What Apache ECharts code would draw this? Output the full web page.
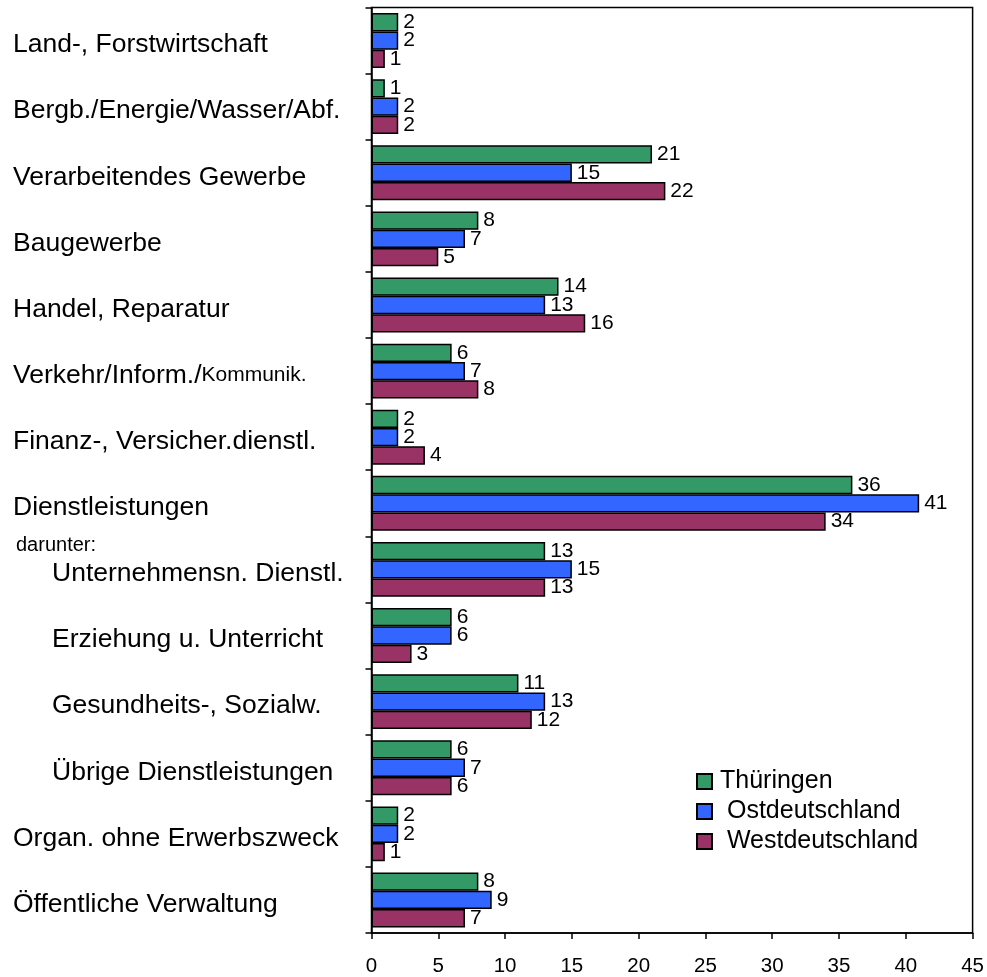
<!DOCTYPE html>
<html>
<head>
<meta charset="utf-8">
<script src="https://cdn.jsdelivr.net/npm/echarts@6/dist/echarts.min.js"></script>
<style>
html,body{margin:0;padding:0;background:#fff;}
#chart{width:987px;height:977px;}
</style>
</head>
<body>
<div id="chart"></div>
<script>
const categories = [
  "Land-, Forstwirtschaft",
  "Bergb./Energie/Wasser/Abf.",
  "Verarbeitendes Gewerbe",
  "Baugewerbe",
  "Handel, Reparatur",
  "Verkehr/Inform./Kommunik.",
  "Finanz-, Versicher.dienstl.",
  "Dienstleistungen",
  "Unternehmensn. Dienstl.",
  "Erziehung u. Unterricht",
  "Gesundheits-, Sozialw.",
  "Übrige Dienstleistungen",
  "Organ. ohne Erwerbszweck",
  "Öffentliche Verwaltung"
];
const indented = ["Unternehmensn. Dienstl.", "Erziehung u. Unterricht", "Gesundheits-, Sozialw.", "Übrige Dienstleistungen"];
const seriesNames = ["Thüringen", "Ostdeutschland", "Westdeutschland"];
const thueringen = [2, 1, 21, 8, 14, 6, 2, 36, 13, 6, 11, 6, 2, 8];
const ostdeutschland = [2, 2, 15, 7, 13, 7, 2, 41, 15, 6, 13, 7, 2, 9];
const westdeutschland = [1, 2, 22, 5, 16, 8, 4, 34, 13, 3, 12, 6, 1, 7];
const xTicks = [0, 5, 10, 15, 20, 25, 30, 35, 40, 45];
const subNote = "darunter:";

const colors = ["#339966", "#3366FF", "#993366"];
const FONT = "'Liberation Sans', Arial, sans-serif";

const chart = echarts.init(document.getElementById('chart'), null, {renderer: 'canvas'});

function mkSeries(name, data, color) {
  return {
    name: name,
    type: 'bar',
    data: data,
    barGap: '0%',
    barCategoryGap: '17%',
    itemStyle: {color: color, borderColor: '#000', borderWidth: 1.5},
    label: {
      show: true,
      position: 'right',
      distance: 5,
      color: '#000',
      fontFamily: FONT,
      fontSize: 21
    },
    emphasis: {disabled: true}
  };
}

const option = {
  animation: false,
  backgroundColor: '#fff',
  grid: {
    left: 371.5, right: 13.7, top: 7.5, bottom: 42.7,
    show: true, borderColor: '#000', borderWidth: 1.5, backgroundColor: 'transparent'
  },
  legend: {
    orient: 'vertical',
    left: 696,
    top: 769,
    padding: 0,
    itemWidth: 15,
    itemHeight: 15,
    itemGap: 5,
    icon: 'rect',
    data: seriesNames,
    formatter: function (n) { return n === seriesNames[0] ? n : ' ' + n; },
    textStyle: {fontFamily: FONT, fontSize: 25, color: '#000', padding: [0, 0, 0, 3]}
  },
  xAxis: {
    type: 'value',
    min: xTicks[0],
    max: xTicks[xTicks.length - 1],
    interval: xTicks[1] - xTicks[0],
    axisLine: {show: true, lineStyle: {color: '#000', width: 1.5}},
    axisTick: {show: true, length: 6, lineStyle: {color: '#000', width: 1.5}},
    splitLine: {show: false},
    axisLabel: {fontFamily: FONT, fontSize: 20.5, color: '#000', margin: 23}
  },
  yAxis: {
    type: 'category',
    data: categories,
    inverse: true,
    axisLine: {show: true, lineStyle: {color: '#000', width: 1.5}},
    axisTick: {show: true, length: 6, alignWithLabel: false, lineStyle: {color: '#000', width: 1.5}},
    axisLabel: {
      align: 'left',
      margin: 358.5,
      color: '#000',
      fontFamily: FONT,
      formatter: function (v) {
        if (v === "Verkehr/Inform./Kommunik.") return '{n|Verkehr/Inform./}{s|Kommunik.}';
        if (indented.indexOf(v) >= 0) return '{ind|' + v + '}';
        return '{n|' + v + '}';
      },
      rich: {
        n: {fontFamily: FONT, fontSize: 26.5, color: '#000', padding: [9, 0, 0, 0]},
        s: {fontFamily: FONT, fontSize: 21, color: '#000', padding: [9, 0, 0, 0]},
        ind: {fontFamily: FONT, fontSize: 26.5, color: '#000', padding: [9, 0, 0, 39]}
      }
    }
  },
  graphic: [{
    type: 'text',
    left: 16,
    top: 535,
    style: {text: subNote, fontFamily: FONT, fontSize: 20, fill: '#000'}
  }],
  series: [
    mkSeries(seriesNames[0], thueringen, colors[0]),
    mkSeries(seriesNames[1], ostdeutschland, colors[1]),
    mkSeries(seriesNames[2], westdeutschland, colors[2])
  ]
};
chart.setOption(option);
</script>
</body>
</html>
